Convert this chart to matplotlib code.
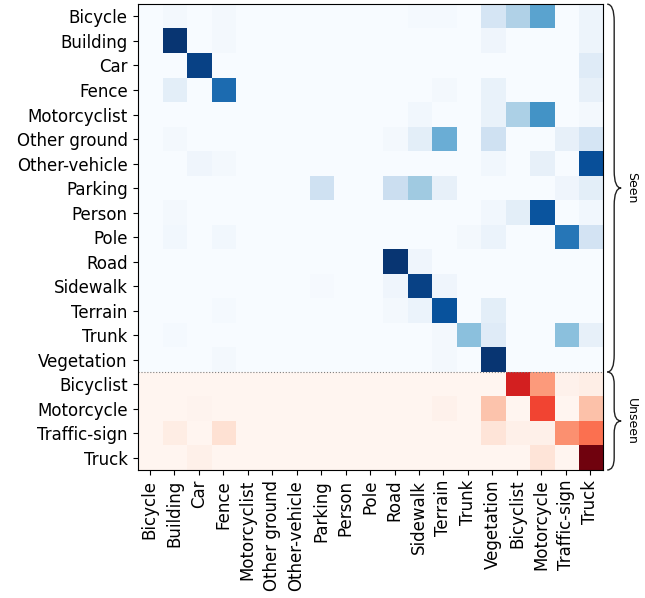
import numpy as np
import matplotlib.pyplot as plt
from matplotlib.path import Path
from matplotlib.patches import PathPatch
from matplotlib.transforms import blended_transform_factory

classes = ['Bicycle', 'Building', 'Car', 'Fence', 'Motorcyclist', 'Other ground',
           'Other-vehicle', 'Parking', 'Person', 'Pole', 'Road', 'Sidewalk',
           'Terrain', 'Trunk', 'Vegetation', 'Bicyclist', 'Motorcycle',
           'Traffic-sign', 'Truck']
n_seen = 15

# confusion values per row (true class), columns = predicted class
conf = {
    'Bicycle':       {1: 0.02, 3: 0.02, 11: 0.015, 12: 0.015, 14: 0.17, 15: 0.32, 16: 0.55, 18: 0.05},
    'Building':      {1: 0.98, 3: 0.02, 14: 0.04, 18: 0.05},
    'Car':           {2: 0.93, 18: 0.12},
    'Fence':         {1: 0.10, 3: 0.77, 12: 0.02, 14: 0.07, 18: 0.08},
    'Motorcyclist':  {11: 0.03, 14: 0.07, 15: 0.33, 16: 0.62, 18: 0.02},
    'Other ground':  {1: 0.02, 10: 0.02, 11: 0.10, 12: 0.50, 14: 0.20, 17: 0.08, 18: 0.17},
    'Other-vehicle': {2: 0.04, 3: 0.02, 14: 0.03, 16: 0.08, 18: 0.88},
    'Parking':       {7: 0.20, 10: 0.22, 11: 0.37, 12: 0.08, 17: 0.04, 18: 0.10},
    'Person':        {1: 0.02, 14: 0.03, 15: 0.10, 16: 0.86, 18: 0.03},
    'Pole':          {1: 0.03, 3: 0.03, 13: 0.02, 14: 0.06, 17: 0.73, 18: 0.18},
    'Road':          {10: 0.98, 11: 0.04},
    'Sidewalk':      {7: 0.01, 10: 0.04, 11: 0.93, 12: 0.04},
    'Terrain':       {3: 0.015, 10: 0.02, 11: 0.06, 12: 0.87, 14: 0.10},
    'Trunk':         {1: 0.015, 12: 0.02, 13: 0.42, 14: 0.12, 17: 0.42, 18: 0.08},
    'Vegetation':    {3: 0.02, 12: 0.02, 14: 0.98},
    'Bicyclist':     {15: 0.72, 16: 0.35, 17: 0.02, 18: 0.04},
    'Motorcycle':    {2: 0.01, 12: 0.02, 14: 0.22, 16: 0.60, 18: 0.23},
    'Traffic-sign':  {1: 0.05, 3: 0.12, 14: 0.10, 15: 0.03, 16: 0.03, 17: 0.38, 18: 0.48},
    'Truck':         {2: 0.03, 16: 0.10, 18: 0.98},
}

n = len(classes)
cm = np.zeros((n, n))
for i, c in enumerate(classes):
    for j, v in conf[c].items():
        cm[i, j] = v

rows = np.arange(n)[:, None]
seen = np.ma.masked_where(np.broadcast_to(rows >= n_seen, cm.shape), cm)
unseen = np.ma.masked_where(np.broadcast_to(rows < n_seen, cm.shape), cm)

fig = plt.figure(figsize=(6.45, 5.98), dpi=100)
ax = fig.add_axes([0.2132, 0.214, 0.721, 0.779])
ax.imshow(seen, cmap='Blues', vmin=0, vmax=1, aspect='auto', interpolation='nearest')
ax.imshow(unseen, cmap='Reds', vmin=0, vmax=1, aspect='auto', interpolation='nearest')
ax.axhline(n_seen - 0.5, color='gray', linestyle=':', linewidth=0.8)

ax.set_xticks(range(n))
ax.set_yticks(range(n))
ax.set_xticklabels(classes, rotation=90, fontsize=12)
ax.set_yticklabels(classes, fontsize=12)
ax.set_xlim(-0.5, n - 0.5)
ax.set_ylim(n - 0.5, -0.5)


def brace(ax, y0, y1, label, x0=1.01, w=0.03, r=0.7):
    tr = blended_transform_factory(ax.transAxes, ax.transData)
    xm = x0 + w / 2
    xt = x0 + w
    ym = (y0 + y1) / 2
    verts = [(x0, y0), (xm, y0), (xm, y0 + r),
             (xm, ym - r), (xm, ym), (xt, ym),
             (xm, ym), (xm, ym + r),
             (xm, y1 - r), (xm, y1), (x0, y1)]
    codes = [Path.MOVETO, Path.CURVE3, Path.CURVE3,
             Path.LINETO, Path.CURVE3, Path.CURVE3,
             Path.CURVE3, Path.CURVE3,
             Path.LINETO, Path.CURVE3, Path.CURVE3]
    ax.add_patch(PathPatch(Path(verts, codes), transform=tr, fill=False,
                           edgecolor='#222222', linewidth=1.0, clip_on=False))
    ax.text(xt + 0.008, ym, label, transform=tr, rotation=-90, fontsize=9,
            va='center', ha='left')


brace(ax, -0.5, n_seen - 0.5, 'Seen')
brace(ax, n_seen - 0.5, n - 0.5, 'Unseen', r=0.5)

plt.savefig('out.png', dpi=100)
